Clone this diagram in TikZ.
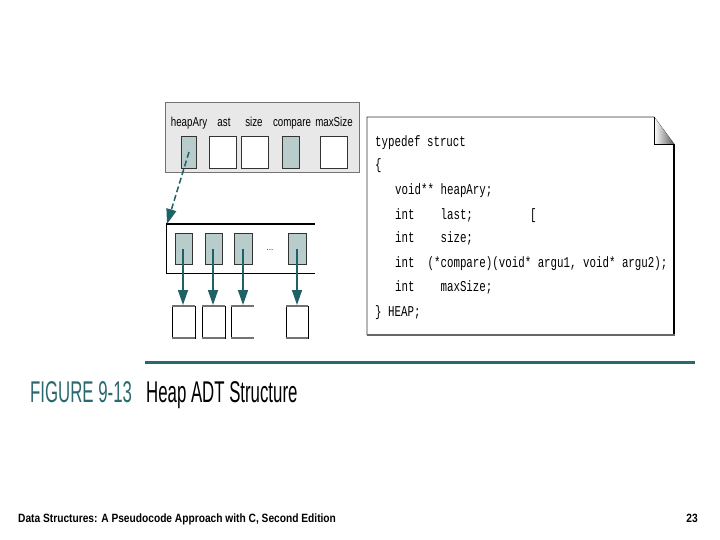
\documentclass[tikz,border=0pt]{standalone}
\usepackage{fontspec}
\setmainfont{Liberation Sans}
\newfontfamily\codefont[FakeStretch=0.72]{Liberation Mono}
\newfontfamily\labfont[FakeStretch=0.75]{Liberation Sans}
\newfontfamily\capfont[FakeStretch=0.56]{Liberation Sans}
\newfontfamily\footfont[FakeStretch=0.85]{Liberation Sans}
\usetikzlibrary{arrows.meta}
\definecolor{cellfill}{HTML}{B8CCCC}
\definecolor{tealdark}{HTML}{1F6266}
\definecolor{hdrfill}{HTML}{E8E8E8}
\definecolor{captteal}{HTML}{2A6A6E}
\tikzset{
  hdrlab/.style={font=\labfont\fontsize{13}{13}\selectfont, anchor=base, inner sep=0},
  hcell/.style={draw=black!80, line width=0.6pt},
  acell/.style={draw=black!80, fill=cellfill, line width=0.6pt},
  ptr/.style={draw=tealdark, line width=1.5pt, -{Triangle[length=15pt,width=10pt]}},
  code/.style={font=\codefont\fontsize{15}{15}\selectfont, anchor=base west, inner sep=0},
}
\begin{document}
\begin{tikzpicture}[x=1pt,y=-1pt]
\useasboundingbox (0,0) rectangle (720,540);
% header box
\fill[hdrfill] (165,102) rectangle (359,172);
\draw[black!55, line width=0.7pt] (165,102) rectangle (359,172);
\node[hdrlab] (lh) at (189,127) {heapAry};
\node[hdrlab] (ll) at (224,127) {ast};
\node[hdrlab] (ls) at (254,127) {size};
\node[hdrlab] (lc) at (292,127) {compare};
\node[hdrlab] (lm) at (334,127) {maxSize};
\path[acell] (181,136) rectangle (196,168);
\coordinate (hA) at (189,152);
\path[hcell, fill=white] (209,136) rectangle (236,168);
\path[hcell, fill=white] (241,136) rectangle (268,168);
\path[acell] (282,136) rectangle (299,168);
\path[hcell, fill=white] (320,136) rectangle (347,168);
% array box
\draw[black, line width=1.6pt] (166,224) -- (315,224);
\draw[black, line width=0.8pt] (166,224) -- (166,273) -- (315,273);
\coordinate (arrTL) at (167,224);
\draw[ptr, dashed, dash pattern=on 6pt off 3pt] (hA) -- (arrTL);
% cells
\foreach \i/\xa/\xb/\xc in {1/175/192/183, 2/205/222/213, 3/234/252/243, 4/288/306/297} {
  \path[acell] (\xa,233) rectangle (\xb,264);
  \coordinate (c\i) at (\xc,249);
}
\node[font=\footnotesize] (dots) at (270,250) {...};
% bottom boxes
\foreach \i/\xa/\xb in {1/172/195, 2/202/225, 4/286/308} {
  \path[draw=black, line width=0.8pt, fill=white] (\xa,306) rectangle (\xb,338);
  \draw[black!55, line width=2pt] (\xa,306) -- (\xb,306);
  \draw[black!55, line width=2pt] (\xa,338) -- (\xb,338);
}
\draw[black, line width=0.8pt] (231,306) -- (231,338);
\draw[black!55, line width=2pt] (231,306) -- (254,306);
\draw[black!55, line width=2pt] (231,338) -- (254,338);
\coordinate (t1) at (183,305);
\coordinate (t2) at (213,305);
\coordinate (t3) at (243,305);
\coordinate (t4) at (297,305);
\draw[ptr] (c1) -- (t1);
\draw[ptr] (c2) -- (t2);
\draw[ptr] (c3) -- (t3);
\draw[ptr] (c4) -- (t4);
% document
\fill[white] (367,117) -- (654,117) -- (674,144) -- (674,335) -- (367,335) -- cycle;
\draw[black!80, line width=0.7pt] (367,335) -- (367,117) -- (654,117) -- (674,144);
\draw[black, line width=1.4pt] (674,144) -- (674,335);
\draw[black!60, line width=2pt] (367,335) -- (675,335);
\shade[left color=white, right color=black!65] (654,117) -- (654,144) -- (674,144) -- cycle;
\draw[black, line width=0.7pt] (654,117) -- (654,144) -- (674,144);
\node[code] (l1) at (375,146.5) {typedef struct};
\node[code] (l2) at (375,170) {\{};
\node[code] (l3) at (395,195) {void** heapAry;};
\node[code] (l4) at (395,219) {int\ \ \ \ last;};
\node[code] (br) at (530,219) {[};
\node[code] (l5) at (395,243) {int\ \ \ \ size;};
\node[code] (l6) at (395,267) {int\ \ (*compare)(void* argu1, void* argu2);};
\node[code] (l7) at (395,291) {int\ \ \ \ maxSize;};
\node[code] (l8) at (375,316) {\} HEAP;};
% rule and caption
\draw[captteal, line width=3pt] (145,362) -- (695,362);
\node[font=\capfont\fontsize{30}{30}\selectfont, text=captteal, anchor=base west, inner sep=0] (fig) at (30,402) {FIGURE 9-13};
\node[font=\capfont\fontsize{30}{30}\selectfont, anchor=base west, inner sep=0] (cap) at (146,402) {Heap ADT Structure};
% footer
\node[font=\footfont\bfseries\fontsize{12}{12}\selectfont, anchor=base west, inner sep=0] (foot) at (18,522) {Data Structures: A Pseudocode Approach with C, Second Edition};
\node[font=\footfont\bfseries\fontsize{12}{12}\selectfont, anchor=base east, inner sep=0] (pg) at (698,522) {23};
\end{tikzpicture}
\end{document}
